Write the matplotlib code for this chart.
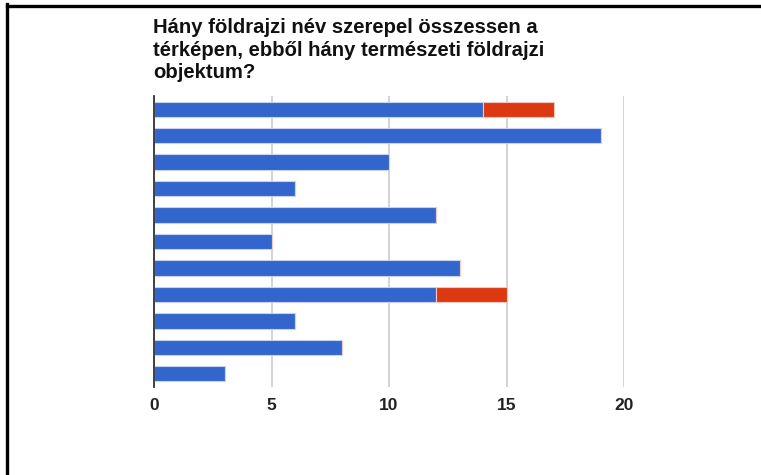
import matplotlib
matplotlib.use("Agg")
import matplotlib.pyplot as plt
from matplotlib.lines import Line2D

title = "Hány földrajzi név szerepel összessen a\ntérképen, ebből hány természeti földrajzi\nobjektum?"
rows = list(range(1, 12))
total_names = [14, 19, 10, 6, 12, 5, 13, 12, 6, 8, 3]
natural_extra = [3, 0, 0, 0, 0, 0, 0, 3, 0, 0, 0]
xticks = [0, 5, 10, 15, 20]

BLUE = "#3366CC"
RED = "#DC3912"

plt.rcParams['font.family'] = ['Liberation Sans', 'DejaVu Sans']

fig = plt.figure(figsize=(7.61, 4.75), dpi=100)
W, H = 761, 475
ax = fig.add_axes([154 / W, 1 - 387 / H, (624 - 154) / W, (387 - 96) / H])

ypos = list(range(len(rows)))
ax.barh(ypos, total_names, height=0.58, color=BLUE, edgecolor="#c6d3f0",
        linewidth=0.8, zorder=3)
ax.barh(ypos, natural_extra, left=total_names, height=0.58, color=RED,
        edgecolor="#f3c8bc", linewidth=0.8, zorder=3)

ax.set_xlim(0, 20)
ax.set_ylim(len(rows) - 0.5, -0.5)
ax.set_yticks([])
ax.set_xticks(xticks)
ax.set_xticklabels([str(t) for t in xticks], fontsize=12.5, fontweight='bold', color="#222222")
ax.tick_params(axis='x', length=0, pad=8)
ax.grid(axis='x', color="#cccccc", linewidth=1.2, zorder=0)
for s in ['top', 'right', 'bottom']:
    ax.spines[s].set_visible(False)
ax.spines['left'].set_color("#333333")
ax.spines['left'].set_linewidth(1.3)
ax.spines['left'].set_zorder(4)

fig.text(153 / W, 1 - 18 / H, title, ha='left', va='top', fontsize=14.6,
         fontweight='bold', color="#111111", linespacing=1.24)

# frame lines
fig.add_artist(Line2D([6.5 / W, 6.5 / W], [0, 1 - 4 / H], color='black', linewidth=2.4,
                      transform=fig.transFigure, solid_capstyle='projecting'))
fig.add_artist(Line2D([6.5 / W, 1], [1 - 5.5 / H, 1 - 5.5 / H], color='black', linewidth=2.4,
                      transform=fig.transFigure, solid_capstyle='projecting'))

fig.savefig("out.png", dpi=100)
